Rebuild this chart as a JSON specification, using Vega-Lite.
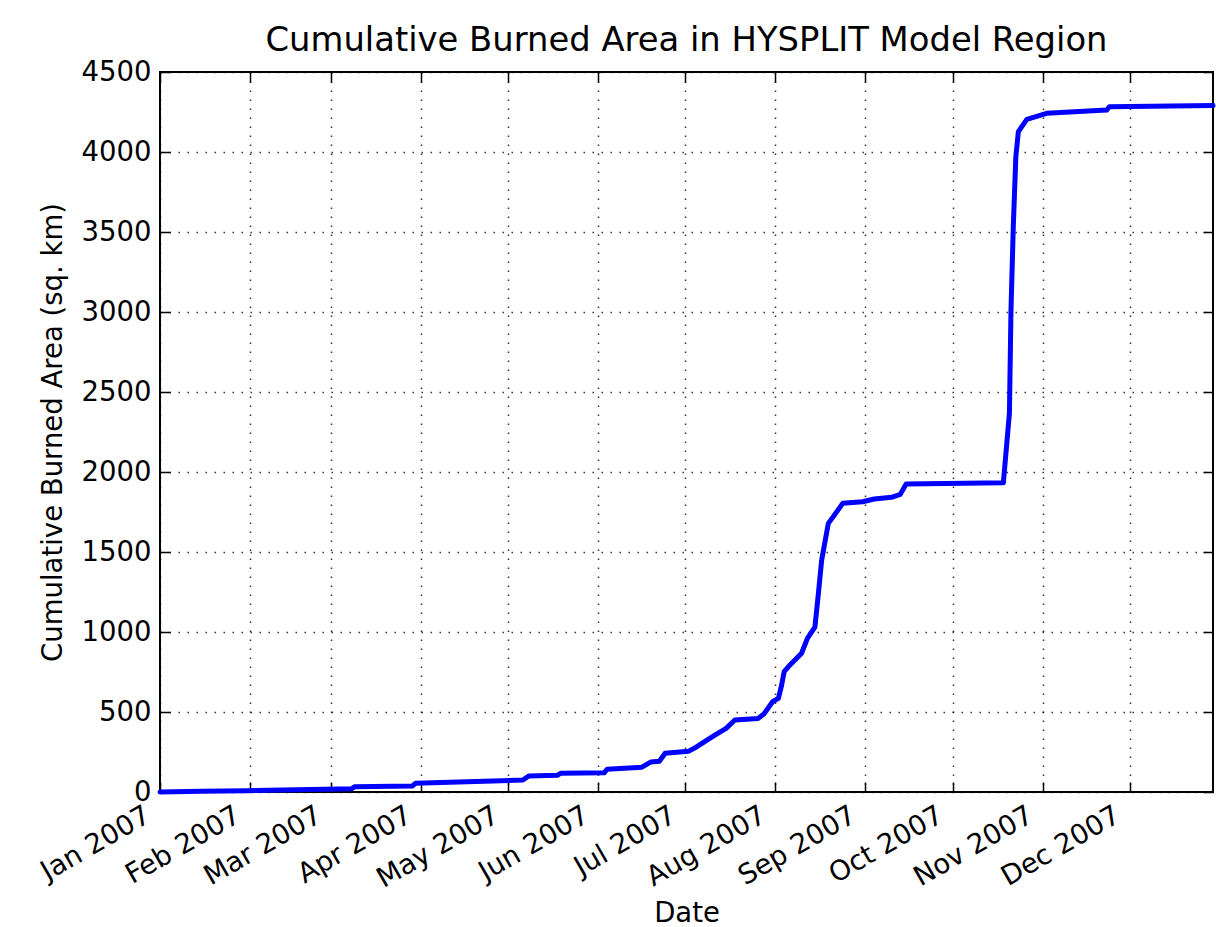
{
  "$schema": "https://vega.github.io/schema/vega-lite/v6.json",
  "autosize": {"type": "none"},
  "padding": {"left": 160, "top": 72, "right": 3, "bottom": 135},
  "width": 1053,
  "height": 720,
  "background": "white",
  "config": {
    "font": "DejaVu Sans",
    "view": {"stroke": "black", "strokeWidth": 2},
    "axis": {
      "labelFont": "DejaVu Sans",
      "titleFont": "DejaVu Sans",
      "labelFontSize": 27.5,
      "titleFontSize": 27.5,
      "titleFontWeight": "normal",
      "labelColor": "black",
      "titleColor": "black",
      "domain": false,
      "tickColor": "black",
      "tickWidth": 1.5,
      "tickSize": -10,
      "gridColor": "black",
      "gridOpacity": 0.8,
      "gridWidth": 1.5,
      "gridDash": [1.5, 7.5]
    }
  },
  "title": {
    "text": "Cumulative Burned Area in HYSPLIT Model Region",
    "font": "DejaVu Sans",
    "fontSize": 33.8,
    "fontWeight": "normal",
    "color": "black",
    "anchor": "middle",
    "frame": "group",
    "baseline": "alphabetic",
    "offset": 20,
    "dy": 47
  },
  "data": {
    "values": [
      {"date": "2007-01-01T00:00", "area": 0},
      {"date": "2007-01-15T00:00", "area": 4},
      {"date": "2007-01-31T00:00", "area": 8},
      {"date": "2007-02-17T00:00", "area": 14},
      {"date": "2007-03-08T00:00", "area": 20},
      {"date": "2007-03-09T00:00", "area": 33},
      {"date": "2007-03-29T00:00", "area": 38},
      {"date": "2007-03-30T00:00", "area": 55},
      {"date": "2007-05-06T00:00", "area": 75},
      {"date": "2007-05-08T00:00", "area": 100},
      {"date": "2007-05-18T00:00", "area": 105},
      {"date": "2007-05-19T00:00", "area": 117},
      {"date": "2007-06-03T00:00", "area": 120},
      {"date": "2007-06-04T00:00", "area": 142},
      {"date": "2007-06-16T00:00", "area": 155},
      {"date": "2007-06-19T00:00", "area": 187},
      {"date": "2007-06-22T00:00", "area": 192},
      {"date": "2007-06-24T00:00", "area": 242},
      {"date": "2007-07-02T00:00", "area": 254},
      {"date": "2007-07-04T00:00", "area": 273},
      {"date": "2007-07-08T00:00", "area": 320},
      {"date": "2007-07-11T00:00", "area": 354},
      {"date": "2007-07-15T00:00", "area": 398},
      {"date": "2007-07-18T00:00", "area": 450},
      {"date": "2007-07-26T00:00", "area": 460},
      {"date": "2007-07-28T00:00", "area": 487},
      {"date": "2007-07-31T00:00", "area": 564},
      {"date": "2007-08-02T00:00", "area": 585},
      {"date": "2007-08-03T00:00", "area": 658},
      {"date": "2007-08-04T00:00", "area": 752},
      {"date": "2007-08-06T00:00", "area": 794},
      {"date": "2007-08-10T00:00", "area": 867},
      {"date": "2007-08-12T00:00", "area": 960},
      {"date": "2007-08-14T14:00", "area": 1030},
      {"date": "2007-08-15T19:00", "area": 1242},
      {"date": "2007-08-16T22:00", "area": 1450},
      {"date": "2007-08-19T05:00", "area": 1679},
      {"date": "2007-08-20T22:00", "area": 1721},
      {"date": "2007-08-24T04:00", "area": 1804},
      {"date": "2007-08-31T00:00", "area": 1814},
      {"date": "2007-09-04T00:00", "area": 1831},
      {"date": "2007-09-10T00:00", "area": 1842},
      {"date": "2007-09-13T00:00", "area": 1860},
      {"date": "2007-09-15T00:00", "area": 1925},
      {"date": "2007-10-18T12:00", "area": 1933},
      {"date": "2007-10-20T14:00", "area": 2367},
      {"date": "2007-10-21T03:00", "area": 3012},
      {"date": "2007-10-21T22:00", "area": 3533},
      {"date": "2007-10-22T19:00", "area": 3971},
      {"date": "2007-10-23T16:00", "area": 4127},
      {"date": "2007-10-26T14:00", "area": 4204},
      {"date": "2007-11-02T10:00", "area": 4242},
      {"date": "2007-11-23T02:00", "area": 4262},
      {"date": "2007-11-24T00:00", "area": 4283},
      {"date": "2007-12-29T17:00", "area": 4290}
    ]
  },
  "layer": [
    {
      "mark": {"type": "line", "strokeOpacity": 0},
      "encoding": {
        "x": {
          "field": "date", "type": "temporal",
          "scale": {"domain": [{"year": 2007, "month": 1, "date": 1}, {"year": 2007, "month": 12, "date": 29, "hours": 17}], "nice": false},
          "axis": {"orient": "top", "labels": false, "grid": false, "title": null, "tickCount": {"interval": "month", "step": 1}}
        },
        "y": {
          "field": "area", "type": "quantitative",
          "scale": {"domain": [0, 4500], "nice": false},
          "axis": {"orient": "right", "labels": false, "grid": false, "title": null, "values": [0, 500, 1000, 1500, 2000, 2500, 3000, 3500, 4000, 4500]}
        }
      }
    },
    {
      "mark": {"type": "line", "color": "#0000ff", "strokeWidth": 5, "strokeJoin": "round", "strokeCap": "round"},
      "encoding": {
        "x": {
          "field": "date", "type": "temporal",
          "axis": {
            "orient": "bottom",
            "grid": true,
            "title": "Date",
            "format": "%b %Y",
            "tickCount": {"interval": "month", "step": 1},
            "labelAngle": -30,
            "labelAlign": "right",
            "labelBaseline": "top",
            "labelOffset": -19,
            "labelPadding": 19,
            "titlePadding": 7,
            "labelFlush": false,
            "labelOverlap": false
          }
        },
        "y": {
          "field": "area", "type": "quantitative",
          "axis": {
            "orient": "left",
            "grid": true,
            "title": "Cumulative Burned Area (sq. km)",
            "format": "d",
            "values": [0, 500, 1000, 1500, 2000, 2500, 3000, 3500, 4000, 4500],
            "labelPadding": 19,
            "titlePadding": 14,
            "labelFlush": false,
            "labelOverlap": false
          }
        }
      }
    }
  ],
  "resolve": {"axis": {"x": "independent", "y": "independent"}}
}
